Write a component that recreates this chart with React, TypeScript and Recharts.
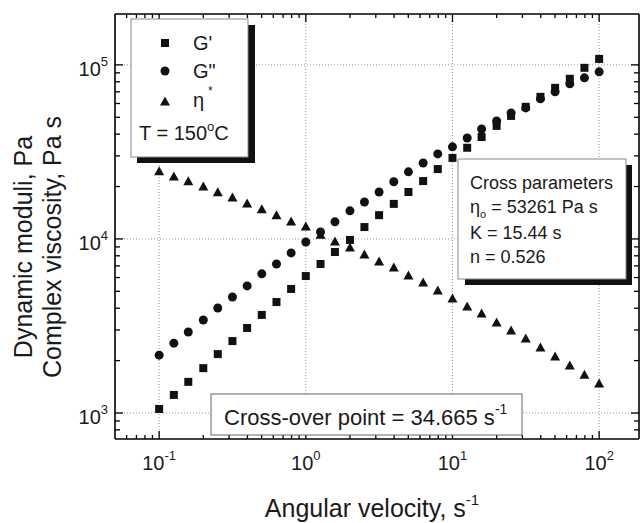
import React from "react"
import { ScatterChart, Scatter, XAxis, YAxis, ReferenceLine } from "recharts"

// angular velocity, s^-1 (10 points per decade)
const freq = [
  0.1, 0.126, 0.158, 0.2, 0.251, 0.316, 0.398, 0.501, 0.631, 0.794,
  1, 1.26, 1.58, 2, 2.51, 3.16, 3.98, 5.01, 6.31, 7.94,
  10, 12.6, 15.8, 20, 25.1, 31.6, 39.8, 50.1, 63.1, 79.4, 100,
]
// storage modulus G', Pa
const gPrime = [
  1055, 1270, 1510, 1810, 2180, 2590, 3080, 3660, 4340, 5160,
  6120, 7180, 8410, 9870, 11700, 13700, 15900, 18600, 21500, 25200,
  29200, 33400, 38500, 44600, 50900, 57400, 65500, 73800, 83200, 96200, 108200,
]
// loss modulus G'', Pa
const gDoublePrime = [
  2150, 2520, 2920, 3420, 4010, 4640, 5370, 6300, 7180, 8310,
  9600, 10970, 12540, 14500, 16300, 18600, 21300, 24300, 27300, 30800,
  33800, 38000, 42800, 47600, 52900, 56600, 63800, 70000, 77800, 84200, 91200,
]
// complex viscosity eta*, Pa s
const etaStar = [
  24300, 22700, 21300, 19900, 18400, 17200, 15900, 14700, 13600, 12500,
  11700, 10500, 9600, 8880, 8090, 7380, 6810, 6120, 5580, 5020,
  4520, 4060, 3700, 3290, 2960, 2660, 2360, 2100, 1860, 1650, 1470,
]

const xDomain = [0.05, 187]
const yDomain = [709, 196000]
const xMajor = [0.1, 1, 10, 100]
const xMinor = [
  0.06, 0.07, 0.08, 0.09,
  0.2, 0.3, 0.4, 0.5, 0.6, 0.7, 0.8, 0.9,
  2, 3, 4, 5, 6, 7, 8, 9,
  20, 30, 40, 50, 60, 70, 80, 90,
]
const yMajor = [1000, 10000, 100000]
const yMinor = [
  800, 900,
  2000, 3000, 4000, 5000, 6000, 7000, 8000, 9000,
  20000, 30000, 40000, 50000, 60000, 70000, 80000, 90000,
]

const FONT = "'Liberation Sans', Arial, Helvetica, sans-serif"
const INK = "#1a1a1a"

const toPoints = (ys: number[]) => freq.map((x, i) => ({ x, y: ys[i] }))
const isMajor = (v: number) => Math.abs(Math.log10(v) - Math.round(Math.log10(v))) < 1e-6
const exp = (v: number) => String(Math.round(Math.log10(v)))

function BottomTick(props: any) {
  const { x, y, payload } = props
  const major = isMajor(payload.value)
  return (
    <g>
      <line x1={x} x2={x} y1={y} y2={y - (major ? 8 : 4)} stroke="#000" strokeWidth={1.3} />
      {major && (
        <text x={x} y={y + 31} textAnchor="middle" fontSize={20} fill={INK} fontFamily={FONT}>
          10<tspan dy={-10} fontSize={13}>{exp(payload.value)}</tspan>
        </text>
      )}
    </g>
  )
}

function LeftTick(props: any) {
  const { x, y, payload } = props
  const major = isMajor(payload.value)
  return (
    <g>
      <line x1={x} x2={x + (major ? 8 : 5)} y1={y} y2={y} stroke="#000" strokeWidth={1.3} />
      {major && (
        <text x={x - 7} y={y + 11} textAnchor="end" fontSize={20} fill={INK} fontFamily={FONT}>
          10<tspan dy={-10} fontSize={13}>{exp(payload.value)}</tspan>
        </text>
      )}
    </g>
  )
}

function TopTick(props: any) {
  const { x, y, payload } = props
  const major = isMajor(payload.value)
  return <line x1={x} x2={x} y1={y} y2={y + (major ? 8 : 4)} stroke="#000" strokeWidth={1.3} />
}

function RightTick(props: any) {
  const { x, y, payload } = props
  const major = isMajor(payload.value)
  return <line x1={x} x2={x - (major ? 8 : 5)} y1={y} y2={y} stroke="#000" strokeWidth={1.3} />
}

const SquareDot = (p: any) => <rect x={p.cx - 4} y={p.cy - 4} width={8} height={8} fill="#111" />
const CircleDot = (p: any) => <circle cx={p.cx} cy={p.cy} r={4.5} fill="#111" />
const TriangleDot = (p: any) => (
  <polygon
    points={`${p.cx},${p.cy - 5.5} ${p.cx - 5},${p.cy + 3.5} ${p.cx + 5},${p.cy + 3.5}`}
    fill="#111"
  />
)

function Overlay() {
  return (
    <svg
      width={641}
      height={523}
      style={{ position: "absolute", left: 0, top: 0, pointerEvents: "none" }}
      fontFamily={FONT}
      fill={INK}
    >
      {/* axis titles */}
      <text transform="translate(32,247) rotate(-90)" textAnchor="middle" fontSize={25}>
        Dynamic moduli, Pa
      </text>
      <text transform="translate(61,247) rotate(-90)" textAnchor="middle" fontSize={25}>
        Complex viscosity, Pa s
      </text>
      <text x={372} y={517} textAnchor="middle" fontSize={25}>
        Angular velocity, s<tspan dy={-12} fontSize={15}>-1</tspan>
      </text>

      {/* legend */}
      <rect x={137} y={25} width={118} height={138} fill="#111" />
      <rect x={131} y={19} width={117} height={138} fill="#fff" stroke="#888" strokeWidth={1} />
      <rect x={161} y={39} width={8} height={8} fill="#111" />
      <circle cx={165} cy={71} r={4.5} fill="#111" />
      <polygon points="165,96.5 160,105.5 170,105.5" fill="#111" />
      <text x={193} y={50} fontSize={20}>G'</text>
      <text x={193} y={78} fontSize={20}>G"</text>
      <text x={193} y={107} fontSize={20}>η</text>
      <text x={208} y={95} fontSize={12}>*</text>
      <text x={139} y={140} fontSize={20}>
        T = 150<tspan dy={-9} fontSize={13}>o</tspan>
        <tspan dy={9}>C</tspan>
      </text>

      {/* Cross model parameters */}
      <rect x={465} y={165} width={167} height={120} fill="#111" />
      <rect x={458} y={159} width={168} height={120} fill="#fff" stroke="#888" strokeWidth={1} />
      <text x={470} y={189} fontSize={18}>Cross parameters</text>
      <text x={470} y={213} fontSize={18}>
        η<tspan dy={5} fontSize={11}>o</tspan>
        <tspan dy={-5}> = 53261 Pa s</tspan>
      </text>
      <text x={470} y={239} fontSize={18}>K = 15.44 s</text>
      <text x={470} y={263} fontSize={18}>n = 0.526</text>

      {/* cross-over point */}
      <rect x={211} y={394} width={311} height={41} fill="#fff" stroke="#666" strokeWidth={1} />
      <text x={224} y={425} fontSize={22}>
        Cross-over point = 34.665 s<tspan dy={-11} fontSize={14}>-1</tspan>
      </text>
    </svg>
  )
}

export default function App() {
  const axisLine = { stroke: "#000", strokeWidth: 1.6 }
  const grid = { stroke: "#999", strokeDasharray: "1 2", strokeWidth: 1 }
  return (
    <div style={{ position: "absolute", left: 0, top: 0, width: 641, height: 523, background: "#fff" }}>
      <ScatterChart width={641} height={523} margin={{ top: 0, right: 0, bottom: 0, left: 0 }}>
        <XAxis
          xAxisId="bottom"
          dataKey="x"
          type="number"
          scale="log"
          domain={xDomain}
          allowDataOverflow
          ticks={[...xMajor, ...xMinor]}
          interval={0}
          tickSize={0}
          tickMargin={0}
          tickLine={false}
          axisLine={axisLine}
          tick={<BottomTick />}
          height={84}
        />
        <XAxis
          xAxisId="top"
          orientation="top"
          dataKey="x"
          type="number"
          scale="log"
          domain={xDomain}
          allowDataOverflow
          ticks={[...xMajor, ...xMinor]}
          interval={0}
          tickSize={0}
          tickMargin={0}
          tickLine={false}
          axisLine={axisLine}
          tick={<TopTick />}
          height={14}
        />
        <YAxis
          yAxisId="left"
          dataKey="y"
          type="number"
          scale="log"
          domain={yDomain}
          allowDataOverflow
          ticks={[...yMajor, ...yMinor]}
          interval={0}
          tickSize={0}
          tickMargin={0}
          tickLine={false}
          axisLine={axisLine}
          tick={<LeftTick />}
          width={115}
        />
        <YAxis
          yAxisId="right"
          orientation="right"
          dataKey="y"
          type="number"
          scale="log"
          domain={yDomain}
          allowDataOverflow
          ticks={[...yMajor, ...yMinor]}
          interval={0}
          tickSize={0}
          tickMargin={0}
          tickLine={false}
          axisLine={axisLine}
          tick={<RightTick />}
          width={2}
        />
        {xMajor.map((v) => (
          <ReferenceLine key={"gx" + v} x={v} xAxisId="bottom" yAxisId="left" {...grid} />
        ))}
        {yMajor.map((v) => (
          <ReferenceLine key={"gy" + v} y={v} xAxisId="bottom" yAxisId="left" {...grid} />
        ))}
        <Scatter
          name="G'"
          data={toPoints(gPrime)}
          xAxisId="bottom"
          yAxisId="left"
          shape={SquareDot}
          isAnimationActive={false}
        />
        <Scatter
          name="G''"
          data={toPoints(gDoublePrime)}
          xAxisId="bottom"
          yAxisId="left"
          shape={CircleDot}
          isAnimationActive={false}
        />
        <Scatter
          name="eta*"
          data={toPoints(etaStar)}
          xAxisId="bottom"
          yAxisId="left"
          shape={TriangleDot}
          isAnimationActive={false}
        />
      </ScatterChart>
      <Overlay />
    </div>
  )
}
